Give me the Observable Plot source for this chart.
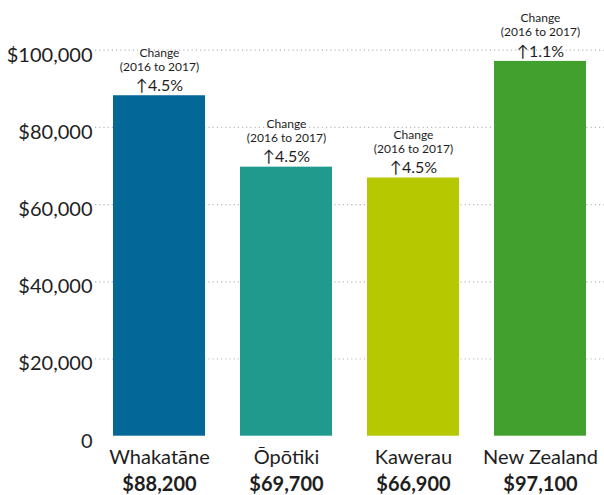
<!DOCTYPE html>
<html>
<head>
<meta charset="utf-8">
<script src="https://cdn.jsdelivr.net/npm/d3@7"></script>
<script src="https://cdn.jsdelivr.net/npm/@observablehq/plot@0.6"></script>
<style>
  html, body { margin: 0; padding: 0; background: #fff; }
  #chart svg { display: block; }
  g[aria-label="names"] text { letter-spacing: 1.2px; }
  g[aria-label="amounts"] text { letter-spacing: 1px; }
  g[aria-label="change-pct"] text { letter-spacing: 0.4px; }
</style>
</head>
<body>
<div id="chart"></div>
<script>
const categories = ["Whakatāne", "Ōpōtiki", "Kawerau", "New Zealand"];
const values = [88200, 69700, 66900, 97100];
const changes = ["4.5%", "4.5%", "4.5%", "1.1%"];
const changeLabel = "Change";
const changePeriod = "(2016 to 2017)";
const yTicks = [0, 20000, 40000, 60000, 80000, 100000];
const barColors = ["#036798", "#209a8c", "#b6c800", "#42a12e"];

const data = categories.map((name, i) => ({name, value: values[i], change: changes[i]}));
const fmtMoney = d => "$" + d3.format(",")(d);
const fmtTick = d => d === 0 ? "0" : "$" + d3.format(",")(d);
const ink = "#1e1e1e";

const chart = Plot.plot({
  width: 604,
  height: 495,
  marginLeft: 95,
  marginRight: 0,
  marginTop: 49.7,
  marginBottom: 59.3,
  style: {fontFamily: "Lato, 'Open Sans', sans-serif", background: "#fff"},
  x: {domain: categories, paddingInner: 0.2756, paddingOuter: 0.1417, axis: null},
  y: {domain: [0, 100000], axis: null},
  color: {domain: categories, range: barColors},
  marks: [
    Plot.ruleY(yTicks.filter(d => d > 0), {stroke: "#b8b8b8", strokeWidth: 1.2, strokeDasharray: "1.2,3"}),
    Plot.barY(data, {x: "name", y: "value", fill: "name"}),
    Plot.text(yTicks, {y: d => d, text: fmtTick, frameAnchor: "left", textAnchor: "end", dx: -3, dy: 5, fontSize: 20, fill: ink}),
    Plot.text(data, {x: "name", y: 0, text: "name", dy: 21, fontSize: 20, fill: ink, ariaLabel: "names"}),
    Plot.text(data, {x: "name", y: 0, text: d => fmtMoney(d.value), dy: 48.5, fontSize: 20, fontWeight: "bold", fill: ink, ariaLabel: "amounts"}),
    Plot.text(data, {x: "name", y: "value", text: () => changeLabel, dy: -42.8, fontSize: 12, fill: ink}),
    Plot.text(data, {x: "name", y: "value", text: () => changePeriod, dy: -28.8, fontSize: 12, fill: ink}),
    Plot.text(data, {x: "name", y: "value", text: d => "↑" + d.change, dy: -9.8, fontSize: 16, fill: ink, ariaLabel: "change-pct"})
  ]
});
document.getElementById("chart").appendChild(chart);

// make the arrow glyph heavy, like the reference's filled arrow
const NS = "http://www.w3.org/2000/svg";
chart.querySelectorAll('g[aria-label="change-pct"] text').forEach(el => {
  const s = el.textContent;
  el.textContent = "";
  const a = document.createElementNS(NS, "tspan");
  a.textContent = s.slice(0, 1);
  a.setAttribute("font-weight", "900");
  a.setAttribute("stroke", "#000");
  a.setAttribute("stroke-width", "1.7");
  a.setAttribute("stroke-linejoin", "miter");
  a.setAttribute("font-size", "14");
  a.setAttribute("fill", "#000");
  const b = document.createElementNS(NS, "tspan");
  b.textContent = s.slice(1);
  el.appendChild(a);
  el.appendChild(b);
});
</script>
</body>
</html>
